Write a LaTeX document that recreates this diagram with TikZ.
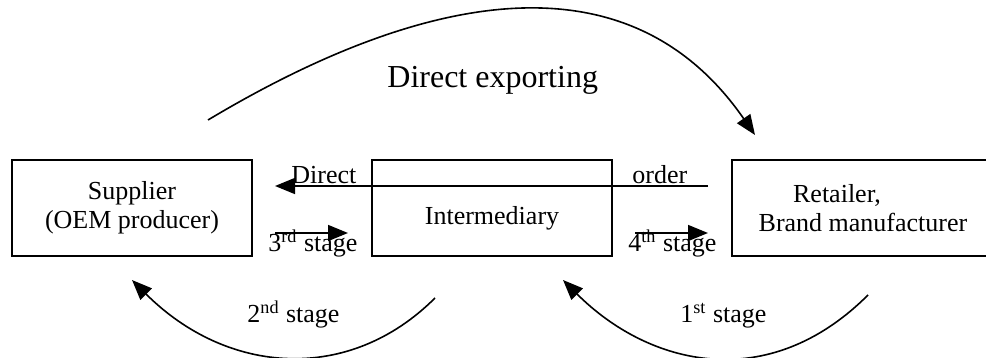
\documentclass[tikz,border=0pt]{standalone}
\usepackage{fontspec}
\setmainfont{Liberation Serif}
\usetikzlibrary{arrows.meta}
\tikzset{
  firm/.style={draw,line width=1pt,minimum width=120pt,minimum height=48pt,
    align=center,font=\fontsize{13}{14.5}\selectfont},
  lab/.style={anchor=base west,inner sep=0pt,font=\fontsize{13}{15}\selectfont},
  flow/.style={line width=0.8pt,-{Triangle[length=10pt,width=8pt]}}
}
\begin{document}
\begin{tikzpicture}[x=0.5pt,y=-0.5pt]
  \useasboundingbox (0,0) rectangle (986,358);
  \node[firm] (supplier) at (132,208) {Supplier\\(OEM producer)};
  \node[firm,text height=20pt,text depth=3pt] (intermed) at (492,208) {Intermediary};
  \node[firm,minimum width=131pt] (retailer) at (863,208) {Retailer,\hspace*{26pt}\\Brand manufacturer};
  \coordinate (ordstart) at (708,186);
  \coordinate (ordend) at (275,186);
  \draw[flow] (ordstart) -- (ordend);
  \node[lab] (direct) at (291,184) {Direct};
  \node[lab] (order) at (632,184) {order};
  \coordinate (s3a) at (275,233);
  \coordinate (s3b) at (348,233);
  \draw[flow] (s3a) -- (s3b);
  \node[lab] (stage3) at (268,251) {3\textsuperscript{rd} stage};
  \coordinate (s4a) at (635,233);
  \coordinate (s4b) at (708,233);
  \draw[flow] (s4a) -- (s4b);
  \node[lab] (stage4) at (628,251) {4\textsuperscript{th} stage};
  \coordinate (expstart) at (208,120);
  \coordinate (expend) at (755,135);
  \draw[flow] (expstart) .. controls (400,5) and (620,-60) .. (expend);
  \node[lab,font=\fontsize{16}{19}\selectfont] (exporting) at (387,88) {Direct exporting};
  \coordinate (st2start) at (435,298);
  \coordinate (st2end) at (132,280);
  \draw[flow] (st2start) .. controls (349,384) and (227,375) .. (st2end);
  \node[lab] (stage2) at (247,322) {2\textsuperscript{nd} stage};
  \coordinate (st1start) at (868,295);
  \coordinate (st1end) at (563,280);
  \draw[flow] (st1start) .. controls (768,395) and (649,366) .. (st1end);
  \node[lab] (stage1) at (680,322) {1\textsuperscript{st} stage};
\end{tikzpicture}
\end{document}
